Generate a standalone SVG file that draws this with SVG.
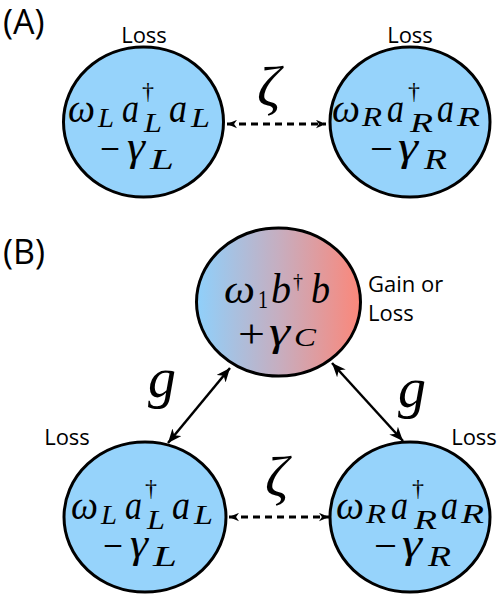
<svg xmlns="http://www.w3.org/2000/svg" width="499" height="597" viewBox="0 0 499 597">
<style>
.node{fill:#96d3fb;stroke:#000;stroke-width:3}
.solid{stroke:#000;stroke-width:2.5;fill:none}
.dash{stroke:#000;stroke-width:3;fill:none;stroke-dasharray:7 5}
.s{font-family:"Open Sans","Noto Sans",sans-serif;fill:#000}
.m{font-family:"Liberation Serif","Times New Roman",serif;font-style:italic;fill:#000}
.u{font-family:"Liberation Serif","Times New Roman",serif;fill:#000}
</style>
<defs>
<linearGradient id="grad" x1="0" y1="0" x2="1" y2="0">
<stop offset="0" stop-color="#8fd0fb"/>
<stop offset="0.5" stop-color="#c6aec0"/>
<stop offset="1" stop-color="#fb877a"/>
</linearGradient>
<marker id="ah" viewBox="0 0 12 10" refX="12" refY="5" markerWidth="14" markerHeight="12" markerUnits="userSpaceOnUse" orient="auto-start-reverse">
<path d="M0,0 L12,5 L0,10 L3.5,5 z" fill="#000"/>
</marker>
<marker id="ahs" viewBox="0 0 12 10" refX="12" refY="5" markerWidth="10" markerHeight="9" markerUnits="userSpaceOnUse" orient="auto-start-reverse">
<path d="M0,0 L12,5 L0,10 L3.5,5 z" fill="#000"/>
</marker>
</defs>

<text class="s" x="3" y="34" font-size="34">(A)</text>
<text class="s" x="3" y="264" font-size="34">(B)</text>

<g id="connectors">
<line class="dash" x1="227" y1="124" x2="326" y2="124" marker-start="url(#ahs)" marker-end="url(#ahs)"/>
<line class="dash" x1="229" y1="517" x2="329" y2="517" marker-start="url(#ahs)" marker-end="url(#ahs)"/>
<line class="solid" x1="168" y1="443" x2="230" y2="368" marker-start="url(#ah)" marker-end="url(#ah)"/>
<line class="solid" x1="332" y1="363" x2="403" y2="441" marker-start="url(#ah)" marker-end="url(#ah)"/>
<text class="m" font-size="58" x="257" y="106">ζ</text>
<text class="m" font-size="58" x="265" y="496">ζ</text>
<text class="m" font-size="56" x="148" y="397">g</text>
<text class="m" font-size="56" x="398" y="407">g</text>
</g>

<g id="nodeAL">
<ellipse class="node" cx="143.5" cy="122" rx="80" ry="75"/>
<text class="s" x="144" y="43" font-size="22" text-anchor="middle">Loss</text>
<text class="m" font-size="40" x="68" y="122" textLength="27" lengthAdjust="spacingAndGlyphs">ω</text>
<text class="m" font-size="27" x="98" y="127" textLength="16" lengthAdjust="spacingAndGlyphs">L</text>
<text class="m" font-size="40" x="122" y="122" textLength="17" lengthAdjust="spacingAndGlyphs">a</text>
<text class="u" font-size="24" x="142" y="99">†</text>
<text class="m" font-size="27" x="144" y="132" textLength="18" lengthAdjust="spacingAndGlyphs">L</text>
<text class="m" font-size="40" x="169" y="122" textLength="18" lengthAdjust="spacingAndGlyphs">a</text>
<text class="m" font-size="27" x="191" y="127" textLength="19" lengthAdjust="spacingAndGlyphs">L</text>
<text class="u" font-size="40" x="100" y="162" textLength="20" lengthAdjust="spacingAndGlyphs">−</text>
<text class="m" font-size="40" x="127" y="160" textLength="18" lengthAdjust="spacingAndGlyphs">γ</text>
<text class="m" font-size="30" x="150" y="169" textLength="24" lengthAdjust="spacingAndGlyphs">L</text>
</g>

<g id="nodeAR">
<ellipse class="node" cx="410" cy="122" rx="80" ry="75"/>
<text class="s" x="410" y="43" font-size="22" text-anchor="middle">Loss</text>
<text class="m" font-size="40" x="332" y="122" textLength="28" lengthAdjust="spacingAndGlyphs">ω</text>
<text class="m" font-size="27" x="362" y="126" textLength="20" lengthAdjust="spacingAndGlyphs">R</text>
<text class="m" font-size="40" x="387" y="122" textLength="17" lengthAdjust="spacingAndGlyphs">a</text>
<text class="u" font-size="24" x="408" y="99">†</text>
<text class="m" font-size="27" x="410" y="132" textLength="23" lengthAdjust="spacingAndGlyphs">R</text>
<text class="m" font-size="40" x="437" y="122" textLength="17" lengthAdjust="spacingAndGlyphs">a</text>
<text class="m" font-size="27" x="457" y="126" textLength="23" lengthAdjust="spacingAndGlyphs">R</text>
<text class="u" font-size="40" x="370" y="162" textLength="23" lengthAdjust="spacingAndGlyphs">−</text>
<text class="m" font-size="40" x="398" y="160" textLength="20" lengthAdjust="spacingAndGlyphs">γ</text>
<text class="m" font-size="30" x="424" y="169" textLength="23" lengthAdjust="spacingAndGlyphs">R</text>
</g>

<g id="nodeC">
<ellipse cx="278.5" cy="302" rx="82" ry="74" fill="url(#grad)" stroke="#000" stroke-width="3"/>
<text class="s" x="368" y="292" font-size="22">Gain or</text>
<text class="s" x="368" y="321" font-size="22">Loss</text>
<text class="m" font-size="40" x="224" y="303" textLength="31" lengthAdjust="spacingAndGlyphs">ω</text>
<text class="u" font-size="25" x="258" y="308" textLength="10" lengthAdjust="spacingAndGlyphs">1</text>
<text class="m" font-size="42" x="271" y="303" textLength="20" lengthAdjust="spacingAndGlyphs">b</text>
<text class="u" font-size="20" x="293" y="288">†</text>
<text class="m" font-size="42" x="311" y="303" textLength="19" lengthAdjust="spacingAndGlyphs">b</text>
<text class="u" font-size="40" x="238" y="347" textLength="27" lengthAdjust="spacingAndGlyphs">+</text>
<text class="m" font-size="40" x="269" y="345" textLength="21" lengthAdjust="spacingAndGlyphs">γ</text>
<text class="m" font-size="25" x="294" y="346" textLength="22" lengthAdjust="spacingAndGlyphs">C</text>
</g>

<g id="nodeBL">
<ellipse class="node" cx="145" cy="517" rx="81" ry="75"/>
<text class="s" x="67" y="445" font-size="22" text-anchor="middle">Loss</text>
<text class="m" font-size="40" x="71" y="519" textLength="27" lengthAdjust="spacingAndGlyphs">ω</text>
<text class="m" font-size="27" x="101" y="524" textLength="16" lengthAdjust="spacingAndGlyphs">L</text>
<text class="m" font-size="40" x="125" y="519" textLength="17" lengthAdjust="spacingAndGlyphs">a</text>
<text class="u" font-size="24" x="145" y="496">†</text>
<text class="m" font-size="27" x="147" y="529" textLength="18" lengthAdjust="spacingAndGlyphs">L</text>
<text class="m" font-size="40" x="172" y="519" textLength="18" lengthAdjust="spacingAndGlyphs">a</text>
<text class="m" font-size="27" x="194" y="524" textLength="19" lengthAdjust="spacingAndGlyphs">L</text>
<text class="u" font-size="40" x="103" y="559" textLength="20" lengthAdjust="spacingAndGlyphs">−</text>
<text class="m" font-size="40" x="130" y="557" textLength="18" lengthAdjust="spacingAndGlyphs">γ</text>
<text class="m" font-size="30" x="153" y="566" textLength="24" lengthAdjust="spacingAndGlyphs">L</text>
</g>

<g id="nodeBR">
<ellipse class="node" cx="410" cy="517" rx="80" ry="75"/>
<text class="s" x="474" y="445" font-size="22" text-anchor="middle">Loss</text>
<text class="m" font-size="40" x="336" y="519" textLength="28" lengthAdjust="spacingAndGlyphs">ω</text>
<text class="m" font-size="27" x="366" y="523" textLength="20" lengthAdjust="spacingAndGlyphs">R</text>
<text class="m" font-size="40" x="391" y="519" textLength="17" lengthAdjust="spacingAndGlyphs">a</text>
<text class="u" font-size="24" x="412" y="496">†</text>
<text class="m" font-size="27" x="414" y="529" textLength="23" lengthAdjust="spacingAndGlyphs">R</text>
<text class="m" font-size="40" x="441" y="519" textLength="17" lengthAdjust="spacingAndGlyphs">a</text>
<text class="m" font-size="27" x="461" y="523" textLength="23" lengthAdjust="spacingAndGlyphs">R</text>
<text class="u" font-size="40" x="374" y="559" textLength="23" lengthAdjust="spacingAndGlyphs">−</text>
<text class="m" font-size="40" x="402" y="557" textLength="20" lengthAdjust="spacingAndGlyphs">γ</text>
<text class="m" font-size="30" x="428" y="566" textLength="23" lengthAdjust="spacingAndGlyphs">R</text>
</g>
</svg>
